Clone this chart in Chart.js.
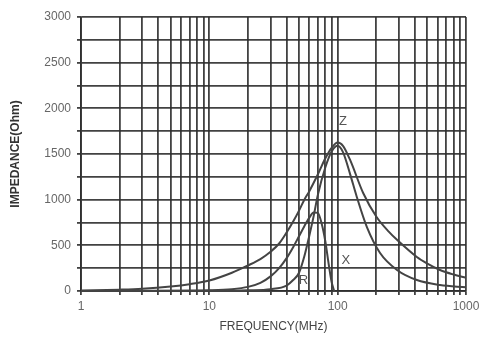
<!DOCTYPE html>
<html>
<head>
<meta charset="utf-8">
<script src="https://cdn.jsdelivr.net/npm/chart.js@4.4.1/dist/chart.umd.min.js"></script>
<style>
html,body{margin:0;padding:0;background:#fff;}
#wrap{width:491px;height:342px;position:relative;}
</style>
</head>
<body>
<div id="wrap"><canvas id="c"></canvas></div>
<script>
// Frequency (MHz) and impedance (Ohm)
const zFreq = [1, 2, 3, 5, 7, 10, 15, 20, 25, 30, 35, 40, 45, 50, 55, 60, 70, 80, 90, 100, 110, 125, 158, 201, 250, 290, 414, 500, 627, 800, 1000];
const zVals = [5, 15, 25, 50, 75, 115, 200, 280, 350, 430, 520, 640, 760, 880, 1000, 1090, 1275, 1450, 1570, 1625, 1590, 1435, 1073, 810, 650, 560, 372, 300, 230, 180, 145];

const xFreq = [1, 5, 10, 15, 20, 25, 30, 35, 40, 45, 50, 55, 60, 65, 70, 75, 80, 85, 90, 94];
const xVals = [0, 3, 8, 20, 45, 90, 160, 250, 360, 480, 600, 710, 800, 860, 855, 740, 550, 300, 90, 0];

const rFreq = [1, 10, 20, 30, 40, 45, 50, 55, 60, 65, 70, 80, 90, 100, 110, 125, 141, 169, 214, 290, 414, 627, 1000];
const rVals = [0, 2, 8, 20, 60, 120, 200, 380, 600, 820, 1050, 1350, 1530, 1590, 1520, 1280, 1030, 700, 416, 230, 120, 66, 40];

const xGrid = [1,2,3,4,5,6,7,8,9,10,20,30,40,50,60,70,80,90,100,200,300,400,500,600,700,800,900,1000];
const xLabels = [1, 10, 100, 1000];
const yMin = 0, yMax = 3000, yStep = 250, yLabelStep = 500;

const curveLabels = [
  {text: 'Z', f: 110, v: 1862},
  {text: 'R', f: 54, v: 120},
  {text: 'X', f: 116, v: 340}
];

const toPts = (fs, vs) => fs.map((f, i) => ({x: f, y: vs[i]}));
const gridColor = 'rgba(45,45,45,0.9)';
const lineColor = '#444';

const labelPlugin = {
  id: 'curveLabels',
  afterDatasetsDraw(chart) {
    const ctx = chart.ctx, xs = chart.scales.x, ys = chart.scales.y;
    ctx.save();
    ctx.font = '13px "Liberation Sans", Arial, sans-serif';
    ctx.fillStyle = '#555';
    ctx.textAlign = 'center';
    ctx.textBaseline = 'middle';
    curveLabels.forEach(l => {
      ctx.fillText(l.text, xs.getPixelForValue(l.f), ys.getPixelForValue(l.v));
    });
    ctx.restore();
  }
};

new Chart(document.getElementById('c'), {
  type: 'line',
  data: {
    datasets: [
      {label: 'Z', data: toPts(zFreq, zVals), borderColor: lineColor, borderWidth: 2, pointRadius: 0, cubicInterpolationMode: 'monotone', fill: false},
      {label: 'X', data: toPts(xFreq, xVals), borderColor: lineColor, borderWidth: 2, pointRadius: 0, cubicInterpolationMode: 'monotone', fill: false},
      {label: 'R', data: toPts(rFreq, rVals), borderColor: lineColor, borderWidth: 2, pointRadius: 0, cubicInterpolationMode: 'monotone', fill: false}
    ]
  },
  options: {
    responsive: true,
    maintainAspectRatio: false,
    animation: false,
    parsing: false,
    layout: {padding: {left: 0, right: 25, top: 17, bottom: 8}},
    plugins: {legend: {display: false}, tooltip: {enabled: false}},
    scales: {
      x: {
        type: 'logarithmic',
        min: 1, max: 1000,
        afterBuildTicks: (s) => { s.ticks = xGrid.map(v => ({value: v})); },
        afterFit: (s) => { s.height = 43; },
        grid: {color: gridColor, lineWidth: 1.8, tickLength: 4},
        border: {color: gridColor, width: 1.8},
        ticks: {
          autoSkip: false, maxRotation: 0, padding: 4,
          color: '#666',
          font: {family: '"Liberation Sans", Arial, sans-serif', size: 12},
          callback: (v) => xLabels.includes(v) ? String(v) : ''
        },
        title: {
          display: true, text: 'FREQUENCY(MHz)', color: '#444',
          font: {family: '"Liberation Sans", Arial, sans-serif', size: 12},
          padding: {top: 0, bottom: 0}
        }
      },
      y: {
        min: yMin, max: yMax,
        afterFit: (s) => { s.width = 81; },
        grid: {color: gridColor, lineWidth: 1.8, tickLength: 4},
        border: {color: gridColor, width: 1.8},
        ticks: {
          stepSize: yStep, autoSkip: false, padding: 6,
          color: '#666',
          font: {family: '"Liberation Sans", Arial, sans-serif', size: 12},
          callback: (v) => (v % yLabelStep === 0) ? String(v) : ''
        },
        title: {
          display: true, text: 'IMPEDANCE(Ohm)', color: '#333',
          font: {family: '"Liberation Sans", Arial, sans-serif', size: 12, weight: 'bold'},
          padding: {top: 8, bottom: 0}
        }
      }
    }
  },
  plugins: [labelPlugin]
});
</script>
</body>
</html>
